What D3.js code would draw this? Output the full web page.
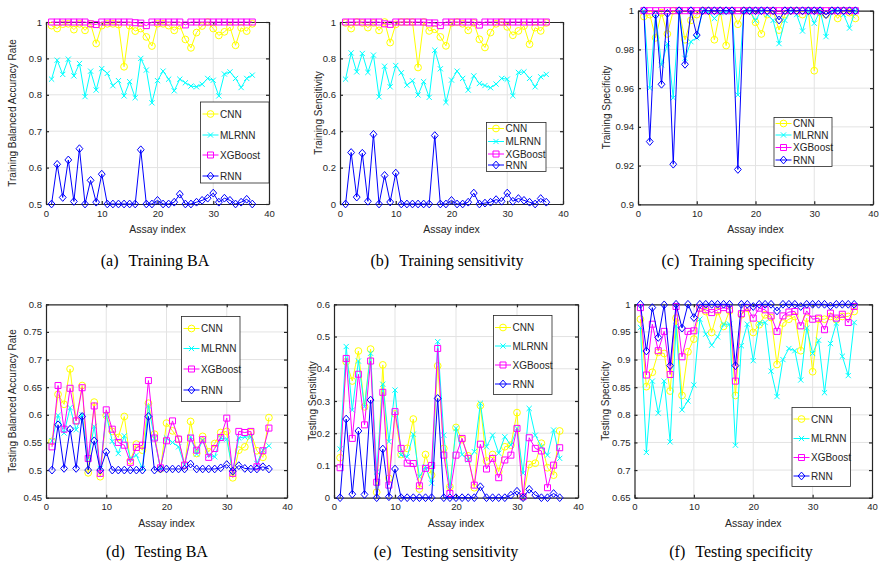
<!DOCTYPE html>
<html>
<head>
<meta charset="utf-8">
<script src="https://cdn.jsdelivr.net/npm/d3@7"></script>
<style>
body{margin:0;background:#fff;}
svg text{font-family:"Liberation Sans",Arial,sans-serif;fill:#262626;}
.cap{font-family:"Liberation Serif","Times New Roman",serif;font-size:16px;fill:#000;}
</style>
</head>
<body>
<div class="visHolder"></div>
<script>
var assay=[1,2,3,4,5,6,7,8,9,10,11,12,13,14,15,16,17,18,19,20,21,22,23,24,25,26,27,28,29,30,31,32,33,34,35,36,37];
var seriesNames=['CNN','MLRNN','XGBoost','RNN'];
var xTicks=[0,10,20,30,40];

// (a) training balanced accuracy
var cnnTrainBA=[0.99,0.982,0.994,0.995,0.979,0.995,0.977,0.995,0.941,0.99,0.995,0.995,0.993,0.877,0.99,0.975,0.982,0.959,0.934,0.995,0.995,0.99,0.977,0.99,0.952,0.929,0.971,0.989,1.0,0.982,0.963,0.973,0.986,0.936,0.984,0.975,0.995];
var mlrnnTrainBA=[0.843,0.895,0.856,0.898,0.852,0.886,0.795,0.865,0.813,0.872,0.859,0.825,0.839,0.797,0.836,0.792,0.9,0.868,0.778,0.839,0.865,0.843,0.811,0.843,0.833,0.824,0.822,0.829,0.845,0.84,0.797,0.857,0.863,0.845,0.82,0.845,0.854];
var xgbTrainBA=[1,1,1,1,1,1,1,0.995,0.993,1,1,1,1,1,1,0.998,0.997,0.99,1,1,1,1,1,1,0.992,1,1,1,1,1,1,1,1,1,1,1,1];
var rnnTrainBA=[0.5,0.609,0.518,0.621,0.507,0.652,0.5,0.565,0.505,0.582,0.5,0.5,0.5,0.5,0.5,0.5,0.649,0.5,0.5,0.51,0.5,0.5,0.505,0.527,0.5,0.5,0.505,0.51,0.516,0.53,0.505,0.516,0.51,0.5,0.505,0.513,0.5];

// (b) training sensitivity
var cnnTrainSen=[0.995,0.964,1.0,0.995,0.969,0.995,0.954,1.0,0.887,0.987,1,1,1,0.75,1,0.951,0.96,0.918,0.869,0.995,1,0.99,0.954,0.995,0.905,0.86,0.942,0.99,1.0,0.973,0.927,0.951,0.978,0.878,0.969,0.951,0.995];
var mlrnnTrainSen=[0.686,0.83,0.726,0.827,0.723,0.818,0.589,0.757,0.644,0.761,0.721,0.653,0.677,0.599,0.672,0.586,0.845,0.743,0.558,0.681,0.73,0.69,0.626,0.704,0.662,0.651,0.639,0.659,0.69,0.686,0.595,0.723,0.726,0.69,0.644,0.699,0.712];
var xgbTrainSen=[1,1,1,1,1,1,1,0.99,0.987,1,1,1,1,1,1,0.995,0.995,0.98,1,1,1,1,1,1,0.983,1,1,1,1,1,1,1,1,1,1,1,1];
var rnnTrainSen=[0,0.283,0.038,0.279,0.015,0.383,0,0.157,0.011,0.17,0,0,0,0,0,0,0.376,0,0,0.02,0,0,0.01,0.06,0,0.005,0.01,0.024,0.015,0.06,0.015,0.03,0.02,0.01,0,0.03,0.01];

// (c) training specificity
var cnnTrainSpe=[0.997,0.998,0.986,0.999,0.988,1,1,0.985,0.995,0.998,1,1,0.985,1,0.982,1,0.993,1,1,0.994,0.988,0.998,1,0.99,0.998,1,1,0.998,1,0.969,0.999,0.998,1,0.996,1,0.999,0.996];
var mlrnnTrainSpe=[1,0.96,0.998,0.972,0.983,0.955,1,0.9754,0.984,0.986,1,0.9995,0.996,0.999,0.9995,0.9995,0.9565,0.9995,1,0.995,1,0.998,0.995,0.983,0.995,1,0.998,0.9895,1,0.9935,1,0.9866,1,1,0.998,0.991,1];
var xgbTrainSpe=[1,1,1,1,1,1,1,1,1,1,1,1,1,1,1,1,1,1,1,1,1,1,1,1,1,1,1,1,1,1,1,1,1,1,1,1,1];
var rnnTrainSpe=[1,0.9324,0.9978,0.962,0.9986,0.9207,1,0.9723,1,0.9874,1,1,1,1,1,1,0.918,1,1,1,1,1,1,0.9952,1,1,1,1,1,1,1,0.998,1,1,1,1,1];

// (d) testing balanced accuracy
var cnnTestBA=[0.552,0.637,0.619,0.683,0.589,0.653,0.495,0.623,0.488,0.599,0.57,0.559,0.597,0.517,0.547,0.536,0.621,0.565,0.502,0.585,0.571,0.556,0.509,0.588,0.53,0.561,0.533,0.548,0.568,0.57,0.486,0.536,0.542,0.568,0.535,0.523,0.595];
var mlrnnTestBA=[0.553,0.599,0.567,0.613,0.573,0.6,0.521,0.579,0.503,0.6,0.552,0.53,0.562,0.521,0.527,0.503,0.616,0.558,0.502,0.558,0.55,0.542,0.509,0.56,0.529,0.554,0.527,0.524,0.558,0.556,0.497,0.558,0.56,0.56,0.512,0.536,0.544];
var xgbTestBA=[0.542,0.653,0.574,0.648,0.589,0.649,0.521,0.616,0.494,0.609,0.574,0.55,0.545,0.514,0.541,0.545,0.662,0.558,0.504,0.553,0.589,0.556,0.509,0.558,0.536,0.555,0.523,0.539,0.559,0.594,0.494,0.57,0.568,0.57,0.506,0.535,0.576];
var rnnTestBA=[0.5,0.582,0.503,0.574,0.503,0.597,0.5,0.553,0.5,0.533,0.5,0.5,0.5,0.5,0.5,0.5,0.597,0.5,0.502,0.502,0.502,0.502,0.502,0.511,0.502,0.502,0.502,0.502,0.504,0.51,0.498,0.508,0.503,0.502,0.502,0.506,0.502];

// (e) testing sensitivity
var cnnTestSen=[0.124,0.422,0.362,0.455,0.282,0.461,0.017,0.412,0.06,0.26,0.134,0.153,0.244,0.027,0.134,0.07,0.409,0.153,0.034,0.218,0.18,0.13,0.031,0.286,0.114,0.134,0.081,0.158,0.163,0.264,0.003,0.103,0.107,0.169,0.093,0.07,0.207];
var mlrnnTestSen=[0.151,0.469,0.272,0.424,0.282,0.448,0.08,0.352,0.174,0.334,0.132,0.127,0.197,0.065,0.096,0.045,0.484,0.194,0.027,0.215,0.134,0.117,0.143,0.293,0.158,0.194,0.138,0.189,0.163,0.215,0.076,0.277,0.194,0.158,0.132,0.21,0.122];
var xgbTestSen=[0.093,0.432,0.184,0.383,0.226,0.424,0.048,0.327,0.039,0.267,0.153,0.107,0.106,0.037,0.091,0.1,0.463,0.132,0.013,0.132,0.184,0.122,0.039,0.166,0.089,0.122,0.062,0.117,0.132,0.215,0.003,0.186,0.153,0.145,0.031,0.101,0.155];
var rnnTestSen=[0,0.244,0.011,0.207,0.01,0.303,0,0.151,0.003,0.089,0,0,0,0,0,0,0.308,0,0,0,0,0,0,0.034,0,0,0,0,0.008,0.02,0,0.026,0.008,0,0,0.013,0];

// (f) testing specificity
var cnnTestSpe=[0.973,0.851,0.877,0.913,0.911,0.843,0.975,0.835,0.914,0.937,0.993,0.987,0.949,0.987,0.96,0.988,0.835,0.981,0.993,0.949,0.963,0.981,0.976,0.891,0.966,0.973,0.978,0.916,0.975,0.878,0.973,0.973,0.978,0.972,0.978,0.978,0.987];
var mlrnnTestSpe=[0.958,0.732,0.861,0.803,0.861,0.751,0.961,0.809,0.825,0.854,0.973,0.946,0.926,0.941,0.964,0.964,0.745,0.925,0.964,0.898,0.966,0.967,0.879,0.833,0.9,0.92,0.916,0.863,0.957,0.911,0.935,0.84,0.929,0.966,0.906,0.871,0.967];
var xgbTestSpe=[0.994,0.872,0.964,0.916,0.951,0.873,0.996,0.905,0.951,0.952,0.993,0.99,0.985,0.99,0.994,0.991,0.861,0.983,0.994,0.975,0.993,0.99,0.979,0.951,0.979,0.986,0.987,0.961,0.988,0.973,0.975,0.954,0.984,0.975,0.982,0.967,0.996];
var rnnTestSpe=[1,0.9155,0.994,0.94,0.999,0.889,1,0.957,1,0.976,1,1,1,1,1,1,0.889,1,1,0.996,1,1,1,0.988,1,1,1,0.996,1,1,1,1,0.997,1,1,1,1];

var colors={CNN:'#ffff00',MLRNN:'#00ffff',XGBoost:'#ff00ff',RNN:'#0000ff'};
var markerPath={
  CNN:d3.symbol().type(d3.symbolCircle).size(36)(),
  MLRNN:'M-2.6,-2.6L2.6,2.6M-2.6,2.6L2.6,-2.6',
  XGBoost:'M-3,-3H3V3H-3Z',
  RNN:'M0,-3.9L3.4,0L0,3.9L-3.4,0Z'
};

var panels=[
  {l:46,r:269,t:22,b:204,dom:[0.5,1],ticks:[0.5,0.6,0.7,0.8,0.9,1],title:'Training Balanced Accuracy Rate',tx:12,
   data:[cnnTrainBA,mlrnnTrainBA,xgbTrainBA,rnnTrainBA],
   leg:{x:200.5,y:102,w:68.5,h:81,lx:202.5,rows:[114,135,155,176]},cap:'(a)',capText:'Training BA',cx:155,cy:266},
  {l:340,r:563,t:22,b:204,dom:[0,1],ticks:[0,0.2,0.4,0.6,0.8,1],title:'Training Sensitivity',tx:318,
   data:[cnnTrainSen,mlrnnTrainSen,xgbTrainSen,rnnTrainSen],
   leg:{x:486.5,y:122.5,w:59.5,h:49,lx:488,rows:[128.5,141.5,154,165]},cap:'(b)',capText:'Training sensitivity',cx:447,cy:266},
  {l:638,r:873,t:10.7,b:204.3,dom:[0.9,1],ticks:[0.9,0.92,0.94,0.96,0.98,1],title:'Training Specificity',tx:606,
   data:[cnnTrainSpe,mlrnnTrainSpe,xgbTrainSpe,rnnTrainSpe],
   leg:{x:774,y:117.5,w:58,h:49,lx:775.5,rows:[123.5,135,147.5,160]},cap:'(c)',capText:'Training specificity',cx:738,cy:266},
  {l:46,r:287,t:304.3,b:497.7,dom:[0.45,0.8],ticks:[0.45,0.5,0.55,0.6,0.65,0.7,0.75,0.8],title:'Testing Balanced Accuracy Rate',tx:12,
   data:[cnnTestBA,mlrnnTestBA,xgbTestBA,rnnTestBA],
   leg:{x:181.5,y:316.5,w:58.5,h:85,lx:183.5,rows:[328.5,348.5,369,390]},cap:'(d)',capText:'Testing BA',cx:157,cy:557},
  {l:334,r:578,t:304.3,b:497.7,dom:[0,0.6],ticks:[0,0.1,0.2,0.3,0.4,0.5,0.6],title:'Testing Sensitivity',tx:312,
   data:[cnnTestSen,mlrnnTestSen,xgbTestSen,rnnTestSen],
   leg:{x:493.5,y:315.5,w:58.5,h:79,lx:495,rows:[327.5,346,365,384]},cap:'(e)',capText:'Testing sensitivity',cx:446,cy:557},
  {l:634.5,r:872,t:304.3,b:497.7,dom:[0.65,1],ticks:[0.65,0.7,0.75,0.8,0.85,0.9,0.95,1],title:'Testing Specificity',tx:605,
   data:[cnnTestSpe,mlrnnTestSpe,xgbTestSpe,rnnTestSpe],
   leg:{x:792,y:407.5,w:58.5,h:79,lx:793.5,rows:[419,438.5,457.5,476]},cap:'(f)',capText:'Testing specificity',cx:741,cy:557}
];

var svg=d3.select('.visHolder')
  .append('svg')
  .attr('width',879)
  .attr('height',563);

var fmt=function(d){return String(+d.toFixed(2));};

function drawPanel(p){
  var x=d3.scaleLinear().domain([0,40]).range([p.l,p.r]);
  var y=d3.scaleLinear().domain(p.dom).range([p.b,p.t]);
  var g=svg.append('g');

  g.append('rect').attr('x',p.l).attr('y',p.t).attr('width',p.r-p.l).attr('height',p.b-p.t).style('fill','#fff');

  // grid
  g.selectAll('.gx').data(xTicks.slice(1,4)).enter().append('line')
    .attr('x1',d=>x(d)).attr('x2',d=>x(d)).attr('y1',p.t).attr('y2',p.b)
    .style('stroke','#e3e3e3').style('stroke-width',1);
  g.selectAll('.gy').data(p.ticks.slice(1,p.ticks.length-1)).enter().append('line')
    .attr('x1',p.l).attr('x2',p.r).attr('y1',d=>y(d)).attr('y2',d=>y(d))
    .style('stroke','#e3e3e3').style('stroke-width',1);

  // axes (ticks inside, box on)
  var ax=[
    g.append('g').attr('transform','translate(0,'+p.b+')').call(d3.axisBottom(x).tickValues(xTicks).tickFormat(fmt).tickSizeInner(-3).tickSizeOuter(0).tickPadding(6)),
    g.append('g').attr('transform','translate('+p.l+',0)').call(d3.axisLeft(y).tickValues(p.ticks).tickFormat(fmt).tickSizeInner(-3).tickSizeOuter(0).tickPadding(4)),
    g.append('g').attr('transform','translate(0,'+p.t+')').call(d3.axisTop(x).tickValues(xTicks).tickFormat('').tickSizeInner(-3).tickSizeOuter(0)),
    g.append('g').attr('transform','translate('+p.r+',0)').call(d3.axisRight(y).tickValues(p.ticks).tickFormat('').tickSizeInner(-3).tickSizeOuter(0))
  ];
  ax.forEach(function(a){
    a.selectAll('path,line').style('stroke','#262626').style('stroke-width',1.2);
    a.selectAll('text').style('font-size','9.5px').style('fill','#262626');
  });

  g.append('text')
    .attr('transform','translate('+p.tx+','+((p.t+p.b)/2)+') rotate(-90)')
    .attr('text-anchor','middle').attr('dy','0.35em')
    .style('font-size','10px')
    .text(p.title);
  g.append('text')
    .attr('x',(p.l+p.r)/2).attr('y',p.b+29)
    .attr('text-anchor','middle')
    .style('font-size','10.5px')
    .text('Assay index');

  var line=d3.line().x(d=>x(d[0])).y(d=>y(d[1]));

  seriesNames.forEach(function(name,k){
    var pts=assay.map(function(a,i){return [a,p.data[k][i]];});
    g.append('path').datum(pts).attr('d',line)
      .style('fill','none').style('stroke',colors[name]).style('stroke-width',1);
    g.selectAll('.m'+k).data(pts).enter().append('path')
      .attr('d',markerPath[name])
      .attr('transform',d=>'translate('+x(d[0])+','+y(d[1])+')')
      .style('fill','none').style('stroke',colors[name]).style('stroke-width',1);
  });

  // legend
  var L=p.leg;
  g.append('rect').attr('x',L.x).attr('y',L.y).attr('width',L.w).attr('height',L.h)
    .style('fill','#fff').style('stroke','#262626').style('stroke-width',0.8);
  seriesNames.forEach(function(name,k){
    var yy=L.rows[k];
    g.append('line').attr('x1',L.lx).attr('x2',L.lx+16).attr('y1',yy).attr('y2',yy)
      .style('stroke',colors[name]).style('stroke-width',1);
    g.append('path').attr('d',markerPath[name]).attr('transform','translate('+(L.lx+8)+','+yy+')')
      .style('fill','none').style('stroke',colors[name]).style('stroke-width',1);
    g.append('text').attr('x',L.lx+17.5).attr('y',yy).attr('dy','0.35em')
      .style('font-size','10px').text(name);
  });

  // caption
  var c=g.append('text').attr('class','cap').attr('x',p.cx).attr('y',p.cy).attr('text-anchor','middle');
  c.append('tspan').text(p.cap);
  c.append('tspan').attr('dx',10).text(p.capText);
}

panels.forEach(drawPanel);
</script>
</body>
</html>
